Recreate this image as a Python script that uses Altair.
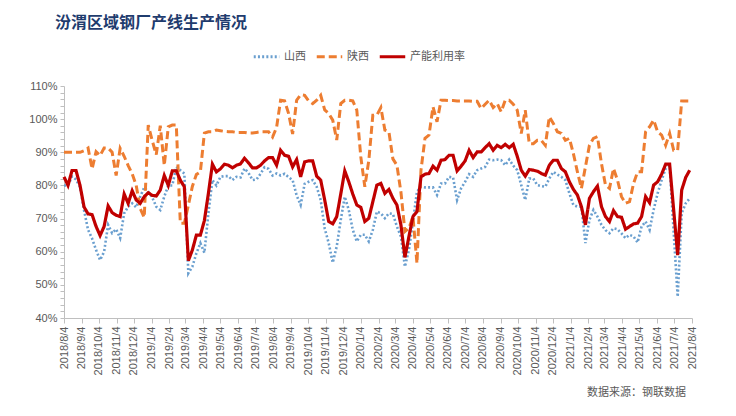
import altair as alt
import pandas as pd

# weekly observation dates (categories)
dates = list(pd.date_range("2018-08-04", periods=157, freq="7D").strftime("%Y-%m-%dT00:00:00"))

series_names = ["山西", "陕西", "产能利用率"]
series_colors = ["#6A9FCF", "#ED7D31", "#C00000"]

shanxi = [
    80, 80, 82.7, 81.8, 79.5, 72.5, 66.6, 64, 60.5, 57.5,
    60, 68.1, 65.6, 66.8, 64.1, 71.6, 73.6, 74.6, 73.4, 76.6,
    79.4, 78.1, 76.4, 73.6, 72.6, 76.6, 80, 80, 85.6, 84.6,
    83.6, 53.5, 55.5, 59.5, 62.6, 59.7, 71.6, 81.6, 80, 82.6,
    82.8, 82.8, 81.6, 82.6, 82.4, 85.1, 83.8, 81.6, 81.8, 83.5,
    85.5, 85, 83, 83.6, 83, 83.5, 82.5, 81.6, 77, 74.1,
    80.5, 81.1, 81.6, 79.6, 75.6, 67, 62.6, 56.7, 61.6, 69.6,
    76.6, 72.6, 66.6, 63.1, 65.1, 65.1, 63.1, 66.6, 72.1, 71.6,
    70.1, 71.6, 71.4, 67.6, 64.6, 55.5, 60.6, 69.1, 78.1, 79.6,
    79.4, 79.4, 79.4, 77.1, 80.6, 80.6, 82.6, 82.4, 75.6, 79.1,
    81.1, 83.4, 82.6, 84.6, 85.1, 85.6, 87.8, 87.6, 87.8, 87.6,
    86.1, 87.8, 86, 84.6, 80.1, 75.6, 82.1, 82.1, 80.1, 79.8,
    79.6, 82.1, 84.1, 83.3, 82.6, 81.6, 77.6, 74.1, 73.6, 73.6,
    62.6, 69.6, 72.6, 70.6, 68.1, 66.5, 65.6, 67.1, 66.8, 65.5,
    64.1, 65.1, 64.6, 62.8, 67.6, 69.1, 66.6, 72.6, 77.6, 81.6,
    85.1, 86, 66, 46.4, 71.6, 74.6, 76.1,
]

shaanxi = [
    90, 90, 90, 90, 90, 90.5, 91.3, 85, 90.2, 89,
    91.3, 91.3, 90, 83, 91.2, 88.8, 86, 83.5, 80, 73,
    70.3, 98.2, 93.5, 89.3, 98, 86, 97.7, 98.2, 98.2, 68.6,
    68.6, 74, 79.7, 83.3, 84.1, 95.8, 96.2, 96.2, 96.7, 96.5,
    96.3, 96.2, 96.2, 96, 96, 96, 95.8, 95.8, 96, 96.2,
    96.2, 96.2, 94.6, 97.5, 105.7, 105.5, 101.7, 95.5, 105.7, 107.4,
    107.2, 105.5, 104.7, 105.7, 107.2, 102.8, 101.7, 99.7, 93.7, 104.7,
    105.7, 105.7, 105.5, 102.7, 88.6, 79.6, 87.6, 101.2, 101.2, 103.5,
    96.7, 96.2, 88, 86.1, 78, 66.1, 67.1, 70.6, 56.5, 84.6,
    94.2, 95.2, 103.7, 99.2, 105.7, 105.7, 105.6, 105.6, 105.5, 105.5,
    105.5, 105.5, 105.4, 105.4, 103.2, 104.5, 105.7, 103.5, 104.7, 102.2,
    105.7, 105.7, 104.5, 102.7, 95.7, 102.7, 92.6, 92.6, 93.6, 93.6,
    92.1, 100.7, 98.7, 96.2, 95.7, 93.6, 94.2, 89.6, 84.1, 79.1,
    85.6, 92.1, 94.2, 94.7, 86.6, 80.1, 79.1, 85.1, 81.6, 76.6,
    74.6, 75.1, 80.6, 84.1, 84.1, 96.2, 97.7, 99.7, 96.2, 95.2,
    92.1, 95.7, 90.6, 90.6, 105.5, 105.5, 105.5,
]

utilization = [
    82.6, 80, 84.5, 84.5, 80, 73.5, 71.4, 71.2, 67.6, 64.9,
    67.6, 73.8, 71.8, 71, 70.6, 77.4, 74.6, 78.4, 75.6, 74.6,
    76.6, 77.8, 77, 76.8, 78.6, 83, 80, 84.4, 84.4, 81.6,
    79.6, 57.3, 60.5, 65, 65, 69.4, 77.6, 86.4, 84.1, 85,
    86.4, 86.1, 85.3, 86.1, 86.5, 88.2, 86.8, 85.3, 85.3, 86.1,
    87.4, 88.4, 88.4, 86.1, 90.6, 89.1, 88.8, 85.6, 87.8, 82.6,
    87.1, 87.4, 87.4, 82.8, 81.6, 75.6, 69.1, 68.4, 70.6, 77.4,
    84.4, 81.1, 77.4, 74.1, 73.4, 69.1, 70.1, 75.1, 80.1, 80.6,
    77.6, 78.8, 76.1, 74.1, 68.1, 58.3, 64.6, 70.6, 72.1, 82.6,
    83.4, 83.6, 85.8, 84.6, 87.6, 87.8, 89.1, 89.1, 84.4, 85.8,
    87.4, 90.6, 88.4, 90.1, 90.1, 91.4, 92.6, 90.6, 92.1, 91.4,
    92.4, 91.4, 92.4, 88.8, 84.6, 82.8, 84.8, 84.6, 84.3, 83.6,
    83.1, 86.1, 87.6, 87.6, 85.1, 84.1, 81.1, 78.8, 77.1, 73.6,
    68.1, 76.1, 78.1, 79.8, 73.6, 70.6, 69.1, 72.4, 70.6, 70.4,
    66.8, 67.6, 68.4, 68.6, 70.6, 76.6, 74.8, 80.1, 81.1, 83.4,
    86.4, 86.4, 72.6, 59, 78.6, 82.4, 84.6,
]

y_ticks = list(range(40, 111, 2))
month_ticks = []
for yr in range(2018, 2022):
    for mo in range(1, 13):
        if (yr, mo) >= (2018, 8) and (yr, mo) <= (2021, 8):
            month_ticks.append(alt.DateTime(year=yr, month=mo, date=4))

title_text = "汾渭区域钢厂产线生产情况"
source_text = "数据来源：钢联数据"

n = len(dates)
df = pd.DataFrame({
    "date": dates * 3,
    "series": [series_names[0]] * n + [series_names[1]] * n + [series_names[2]] * n,
    "value": shanxi + shaanxi + utilization,
})

font_cjk = "Noto Sans CJK SC"
grey = "#595959"
axis_grey = "#BFBFBF"

x_enc = alt.X(
    "date:T",
    scale=alt.Scale(domain=[alt.DateTime(year=2018, month=8, date=4),
                            alt.DateTime(year=2021, month=8, date=4)]),
    axis=alt.Axis(
        values=month_ticks, format="%Y/%-m/%-d", labelAngle=-90, title=None,
        grid=False, domainColor=axis_grey, tickColor=axis_grey, tickSize=5,
        labelColor=grey, labelFont="Liberation Sans", labelFontSize=11,
        labelOverlap=False, labelPadding=3,
    ),
)
y_enc = alt.Y(
    "value:Q",
    scale=alt.Scale(domain=[40, 110], nice=False, zero=False),
    axis=alt.Axis(
        values=y_ticks, title=None, grid=False,
        labelExpr="datum.value % 10 == 0 ? datum.value + '%' : ''",
        domainColor=axis_grey, tickColor=axis_grey, tickSize=4,
        labelColor=grey, labelFont="Liberation Sans", labelFontSize=11,
        labelOverlap=False, labelPadding=3,
    ),
)
legend = alt.Legend(
    title=None, orient="none", legendX=188, legendY=-44, direction="horizontal",
    symbolType="stroke", symbolStrokeWidth=3, symbolSize=650,
    labelFont=font_cjk, labelFontSize=11, labelColor=grey, columnPadding=4,
    labelOffset=3,
)
color_enc = alt.Color("series:N", scale=alt.Scale(domain=series_names, range=series_colors),
                      legend=legend)
dash_enc = alt.StrokeDash("series:N",
                          scale=alt.Scale(domain=series_names,
                                          range=[[2, 2.2], [8, 4], [1, 0]]),
                          legend=legend)

base = alt.Chart(df).encode(x=x_enc, y=y_enc, color=color_enc, strokeDash=dash_enc)

blue = base.transform_filter(alt.datum.series == series_names[0]).mark_line(strokeWidth=2.6)
orange = base.transform_filter(alt.datum.series == series_names[1]).mark_line(strokeWidth=3)
red = base.transform_filter(alt.datum.series == series_names[2]).mark_line(strokeWidth=3.2)

src = alt.Chart(pd.DataFrame({"t": [source_text]})).mark_text(
    align="right", baseline="middle", font=font_cjk, fontSize=11, color=grey
).encode(x=alt.value(622), y=alt.value(307), text="t:N")

ttl = alt.Chart(pd.DataFrame({"t": [title_text]})).mark_text(
    align="left", baseline="middle", font=font_cjk, fontSize=16, fontWeight="bold",
    color="#1F3C6E"
).encode(x=alt.value(-9), y=alt.value(-63), text="t:N")

chart = alt.layer(blue, orange, red, src, ttl).properties(
    width=628, height=232,
    autosize=alt.AutoSizeParams(type="none"),
    padding={"left": 56, "top": 78, "right": 30, "bottom": 90},
).configure_view(stroke=None)

chart.save("out.html", embed_options={"renderer": "svg", "actions": False})
